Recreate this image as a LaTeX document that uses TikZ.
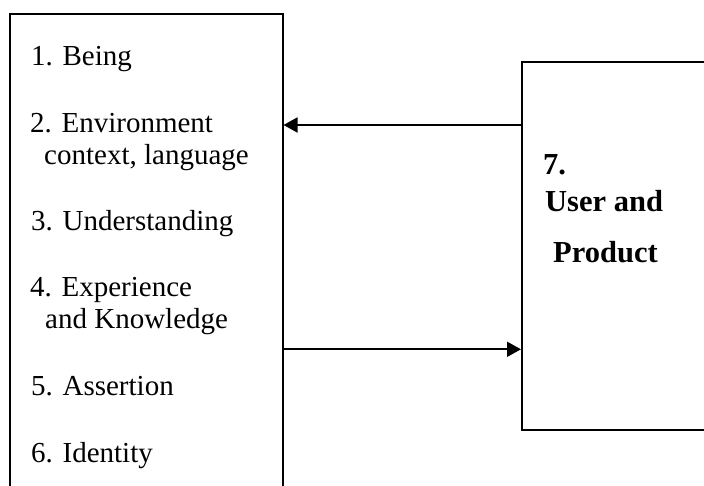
\documentclass[tikz,border=0pt]{standalone}
\usepackage{fontspec}
\setmainfont{Liberation Serif}
\usetikzlibrary{arrows.meta}
\begin{document}
\begin{tikzpicture}[x=1pt,y=-1pt,
  boxstyle/.style={draw, line width=2pt, inner sep=0pt, anchor=north west},
  itemtext/.style={inner sep=0pt, anchor=base west, font=\fontsize{29}{34}\selectfont},
  boldtext/.style={inner sep=0pt, anchor=base west, font=\fontsize{30.5}{36}\selectfont\bfseries},
  arr/.style={line width=1.8pt, -{Triangle[length=14pt,width=15pt]}}]
\path[use as bounding box, clip] (0,0) rectangle (704,486);
\node[boxstyle, minimum width=272.5pt, minimum height=500pt] (L) at (9,12.7) {};
\node[boxstyle, minimum width=220pt, minimum height=368.3pt] (R) at (521,60.7) {};
\node[itemtext] (t1) at (31,65.7) {1. Being};
\node[itemtext] (t2) at (30,132.7) {2. Environment};
\node[itemtext] (t2b) at (44,164.3) {context, language};
\node[itemtext] (t3) at (31,231) {3. Understanding};
\node[itemtext] (t4) at (30,296.7) {4. Experience};
\node[itemtext] (t4b) at (45,328.3) {and Knowledge};
\node[itemtext] (t5) at (31,395.7) {5. Assertion};
\node[itemtext] (t6) at (31,462.3) {6. Identity};
\node[boldtext] (u1) at (543,175) {7.};
\node[boldtext] (u2) at (545,211.7) {User and};
\node[boldtext] (u3) at (553,263) {Product};
\draw[arr] (R.west |- 0,125) -- (L.east |- 0,125);
\draw[arr] (L.east |- 0,349.3) -- (R.west |- 0,349.3);
\end{tikzpicture}
\end{document}
